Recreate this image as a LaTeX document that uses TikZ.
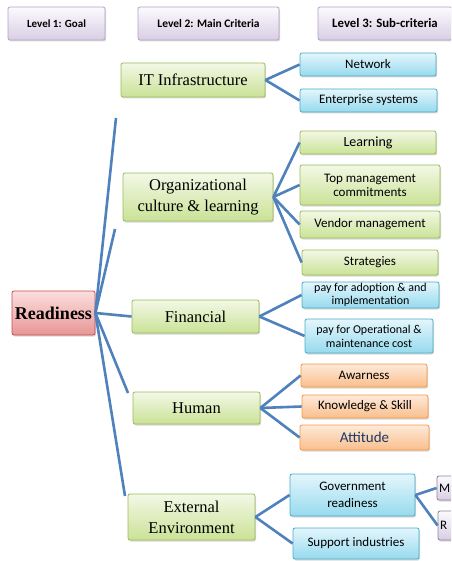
\documentclass[tikz,border=0pt]{standalone}
\usepackage{fontspec}
\setmainfont{Liberation Serif}
\newfontfamily\calib{Carlito}
\definecolor{linkblue}{RGB}{79,129,189}
\definecolor{grnline}{RGB}{155,187,89}
\definecolor{grntop}{RGB}{243,248,230}
\definecolor{grnbot}{RGB}{202,226,150}
\definecolor{bluline}{RGB}{75,172,198}
\definecolor{blutop}{RGB}{228,246,252}
\definecolor{blubot}{RGB}{150,218,238}
\definecolor{orgline}{RGB}{247,150,70}
\definecolor{orgtop}{RGB}{253,234,218}
\definecolor{orgbot}{RGB}{250,190,140}
\definecolor{redline}{RGB}{192,80,77}
\definecolor{redtop}{RGB}{252,222,222}
\definecolor{redbot}{RGB}{232,150,150}
\definecolor{purline}{RGB}{178,162,199}
\definecolor{purtop}{RGB}{252,250,254}
\definecolor{purbot}{RGB}{216,206,228}
\definecolor{navytext}{RGB}{31,56,100}
\usetikzlibrary{positioning, shadows}

\begin{document}
\begin{tikzpicture}[x=1pt, y=-1pt,
    box/.style={rounded corners=2pt, line width=0.8pt, inner sep=1pt, align=center,
      drop shadow={shadow xshift=1pt, shadow yshift=-1.5pt, opacity=.3}},
    level/.style={box, draw=purline, top color=purtop, bottom color=purbot,
      minimum height=33pt, font=\calib\bfseries\fontsize{11}{13}\selectfont},
    goalbox/.style={box, draw=redline, top color=redtop, bottom color=redbot,
      minimum width=83pt, minimum height=44pt, font=\bfseries\fontsize{18}{20}\selectfont},
    crit/.style={box, draw=grnline, top color=grntop, bottom color=grnbot,
      font=\fontsize{16.5}{21}\selectfont},
    subgreen/.style={box, draw=grnline, top color=grntop, bottom color=grnbot,
      font=\calib\fontsize{13}{14}\selectfont},
    subblue/.style={box, draw=bluline, top color=blutop, bottom color=blubot,
      font=\calib\fontsize{13}{14}\selectfont},
    suborange/.style={box, draw=orgline, top color=orgtop, bottom color=orgbot,
      font=\calib\fontsize{13}{14}\selectfont},
    subpurple/.style={box, draw=purline!80!black, top color=purtop, bottom color=purbot,
      font=\calib\fontsize{13}{14}\selectfont, text width=56pt, align=left},
    link/.style={draw=linkblue, line width=2.6pt},
  ]
  \useasboundingbox (0,0) rectangle (451,561);
  \clip (0,0) rectangle (451,561);

  % header row
  \node[level, minimum width=97pt]  (h1) at (56.5,23.5) {Level 1: Goal};
  \node[level, minimum width=141pt, font=\calib\bfseries\fontsize{11.5}{13}\selectfont] (h2) at (208.5,23.5) {Level 2: Main Criteria};
  \node[level, minimum width=134pt, font=\calib\bfseries\fontsize{12.8}{14}\selectfont] (h3) at (385,23.5) {Level 3: Sub-criteria};

  % goal and main criteria
  \node[goalbox] (goal) at (53.5,313) {Readiness};
  \node[crit, minimum width=144pt, minimum height=34pt] (it)  at (193,80) {IT Infrastructure};
  \node[crit, minimum width=150pt, minimum height=48pt] (org) at (198,197) {Organizational\\culture \& learning};
  \node[crit, minimum width=127pt, minimum height=33pt] (fin) at (195.5,316.5) {Financial};
  \node[crit, minimum width=127pt, minimum height=32pt] (hum) at (196.5,408) {Human};
  \node[crit, minimum width=127pt, minimum height=46pt] (ext) at (191.5,517) {External\\Environment};

  % sub-criteria
  \node[subblue, minimum width=136pt, minimum height=23pt] (net) at (368,64.5) {Network};
  \node[subblue, minimum width=137pt, minimum height=23pt] (ent) at (368.5,100.5) {Enterprise systems};
  \node[subgreen, minimum width=136pt, minimum height=23pt, font=\calib\fontsize{14}{15}\selectfont] (lrn) at (368,142.5) {Learning};
  \node[subgreen, minimum width=140pt, minimum height=40pt] (top) at (370,185) {Top management\\commitments};
  \node[subgreen, minimum width=140pt, minimum height=27pt] (ven) at (370,224.5) {Vendor management};
  \node[subgreen, minimum width=136pt, minimum height=25pt] (str) at (370,262.5) {Strategies};
  \node[subblue, minimum width=137pt, minimum height=26pt, inner sep=0pt, font=\calib\fontsize{12}{13}\selectfont] (pad) at (370.5,295) {pay for adoption \& and\\implementation};
  \node[subblue, minimum width=128pt, minimum height=34pt, font=\calib\fontsize{12}{14}\selectfont] (pop) at (369,336) {pay for Operational \&\\maintenance cost};
  \node[suborange, minimum width=126pt, minimum height=23pt] (awa) at (364,375.5) {Awarness};
  \node[suborange, minimum width=126pt, minimum height=23pt] (kno) at (365,406.5) {Knowledge \& Skill};
  \node[suborange, minimum width=129pt, minimum height=25pt, font=\calib\fontsize{15}{16}\selectfont, text=navytext] (att) at (364.5,437.5) {Attitude};
  \node[subblue, minimum width=125pt, minimum height=42pt, font=\calib\fontsize{13}{17}\selectfont] (gov) at (352.5,495) {Government\\readiness};
  \node[subblue, minimum width=126pt, minimum height=31pt] (sup) at (356,543.5) {Support industries};
  \node[subpurple, minimum width=60pt, minimum height=24pt] (mm) at (467,488) {M};
  \node[subpurple, minimum width=60pt, minimum height=29pt] (rr) at (468,525.5) {R};

  % free ends of the goal links
  \coordinate (itend)  at (116,118);
  \coordinate (orgend) at (115,229);
  \coordinate (humend) at (128,393);
  \coordinate (extend) at (125,496);

  \draw[link] (goal.east) -- (itend);
  \draw[link] (goal.east) -- (orgend);
  \draw[link] (goal.east) -- (fin.west);
  \draw[link] (goal.east) -- (humend);
  \draw[link] (goal.east) -- (extend);

  \draw[link] (it.east) -- (net.west);
  \draw[link] (it.east) -- (ent.west);
  \foreach \s in {lrn,top,ven,str}
    \draw[link] (org.east) -- (\s.west);
  \draw[link] (fin.east) -- (pad.west);
  \draw[link] (fin.east) -- (pop.west);
  \foreach \s in {awa,kno,att}
    \draw[link] (hum.east) -- (\s.west);
  \draw[link] (ext.east) -- (gov.west);
  \draw[link] (ext.east) -- (sup.west);
  \draw[link] (gov.east) -- (mm.west);
  \draw[link] (gov.east) -- (rr.west);
\end{tikzpicture}
\end{document}
